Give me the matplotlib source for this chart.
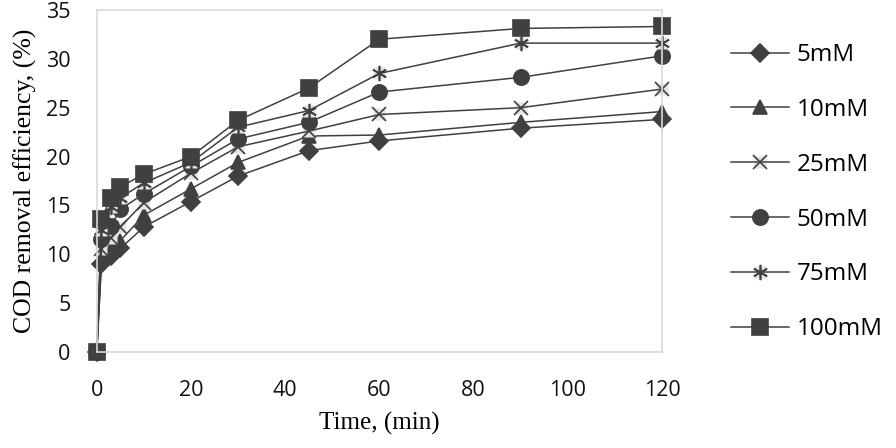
import numpy as np
import matplotlib
matplotlib.use("Agg")
import matplotlib.pyplot as plt
from matplotlib.legend_handler import HandlerTuple

# Sampling times (min) and COD removal efficiency (%) per concentration
time_min = [0, 1, 3, 5, 10, 20, 30, 45, 60, 90, 120]

cod_5mM = [0, 9.0, 9.8, 10.6, 12.8, 15.4, 18.0, 20.6, 21.6, 22.9, 23.8]
cod_10mM = [0, 9.6, 10.5, 11.4, 14.0, 16.7, 19.4, 22.1, 22.2, 23.5, 24.6]
cod_25mM = [0, 10.5, 11.7, 12.8, 15.3, 18.3, 21.0, 22.6, 24.3, 25.0, 26.9]
cod_50mM = [0, 11.6, 12.9, 14.6, 16.2, 19.0, 21.8, 23.5, 26.6, 28.1, 30.3]
cod_75mM = [0, 12.5, 14.8, 15.8, 17.3, 19.4, 23.0, 24.7, 28.5, 31.6, 31.6]
cod_100mM = [0, 13.6, 15.8, 16.9, 18.2, 20.0, 23.7, 27.0, 32.0, 33.1, 33.3]

labels = ["5mM", "10mM", "25mM", "50mM", "75mM", "100mM"]
series = [cod_5mM, cod_10mM, cod_25mM, cod_50mM, cod_75mM, cod_100mM]
markers = ["D", "^", "x", "o", (6, 2, 0), "s"]
msizes = [9, 10, 10, 11, 11, 11]
lightbox = [False, False, True, False, True, False]  # excel-style grey fill behind x / *

DARK = "#404040"
FRAME = "#d9d9d9"
BOXFILL = "#e3e3e3"

fig = plt.figure(figsize=(8.96, 4.48), dpi=100)
ax = fig.add_axes([0.108, 0.214, 0.631, 0.764])

handles = []
for vals, lab, mk, ms, box in zip(series, labels, markers, msizes, lightbox):
    parts = []
    if box:
        bg, = ax.plot(time_min, vals, linestyle="none", marker="s",
                      markersize=ms * 0.85, markerfacecolor=BOXFILL,
                      markeredgecolor="none", clip_on=False)
        parts.append(bg)
    ln, = ax.plot(time_min, vals, color=DARK, linewidth=1.1, marker=mk,
                  markersize=ms, markerfacecolor=DARK, markeredgecolor=DARK,
                  markeredgewidth=1.2, clip_on=False)
    parts.append(ln)
    handles.append(tuple(parts))

ax.set_xlim(0, 120)
ax.set_ylim(0, 35)
ax.set_xticks(np.arange(0, 121, 20))
ax.set_yticks(np.arange(0, 36, 5))

for side in ["top", "right", "bottom", "left"]:
    ax.spines[side].set_color(FRAME)
    ax.spines[side].set_linewidth(1.2)
ax.tick_params(length=0, labelsize=15.5, labelcolor="#111111")
ax.tick_params(axis="x", pad=20)
ax.tick_params(axis="y", pad=19)
for t in ax.get_xticklabels() + ax.get_yticklabels():
    t.set_fontfamily("Open Sans")

ax.set_xlabel("Time, (min)", fontfamily="Liberation Serif", fontsize=18,
              labelpad=8)
ax.set_ylabel("COD removal efficiency, (%)", fontfamily="Liberation Serif",
              fontsize=18.5, labelpad=6)

fig.legend(handles, labels, loc="upper left", bbox_to_anchor=(0.816, 0.904),
           frameon=False, prop={"family": "Open Sans", "size": 17.5},
           labelspacing=1.27, handlelength=2.4, handletextpad=0.3,
           borderpad=0, borderaxespad=0,
           handler_map={tuple: HandlerTuple(ndivide=1, pad=0)})

fig.savefig("out.png", dpi=100)
